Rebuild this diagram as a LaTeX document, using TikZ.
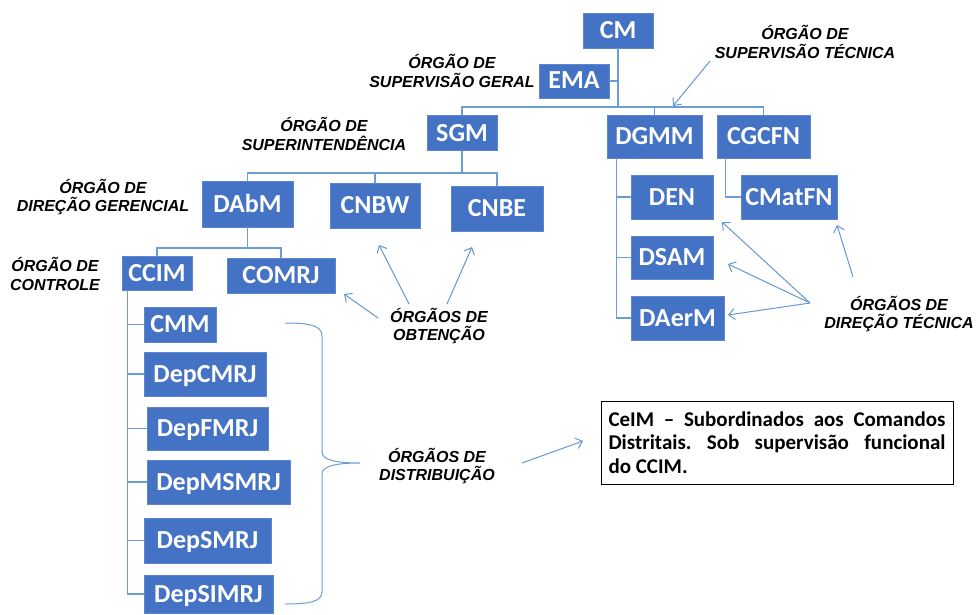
\documentclass[tikz,border=0pt]{standalone}
\usepackage{fontspec}
\setmainfont{Carlito}
\newfontfamily\labfont{Liberation Sans}
\usetikzlibrary{arrows.meta}
\definecolor{boxblue}{RGB}{68,114,196}
\definecolor{boxedge}{RGB}{92,135,208}
\definecolor{conncol}{RGB}{108,158,214}
\definecolor{arrcol}{RGB}{100,152,212}
\tikzset{
  box/.style={fill=boxblue, draw=boxedge, line width=0.8pt, text=white,
    font=\fontsize{26}{26}\selectfont\bfseries, inner sep=0pt,
    text height=17pt, text depth=1pt},
  lab/.style={font=\fontsize{16}{18.5}\labfont\bfseries\itshape, align=center,
    inner sep=0pt, text=black},
  conn/.style={draw=conncol, line width=1.2pt},
  arr/.style={draw=arrcol, line width=1pt, -{Straight Barb[length=6pt,width=11pt]}}
}
\begin{document}
\begin{tikzpicture}[x=1pt,y=-1pt]
\useasboundingbox (0,0) rectangle (976,615);
\fill[white] (0,0) rectangle (976,615);

% boxes
\node[box, minimum width=70pt, minimum height=35pt] (CM) at (618,30.5) {CM};
\node[box, minimum width=70pt, minimum height=34pt] (EMA) at (574,81) {EMA};
\node[box, minimum width=70pt, minimum height=35pt] (SGM) at (462,133) {SGM};
\node[box, minimum width=95pt, minimum height=43pt] (DGMM) at (654.5,136.5) {DGMM};
\node[box, minimum width=93pt, minimum height=43pt] (CGCFN) at (763.5,136.5) {CGCFN};
\node[box, minimum width=91pt, minimum height=46pt] (DAbM) at (247.5,204) {DAbM};
\node[box, minimum width=90pt, minimum height=45pt] (CNBW) at (375,205.5) {CNBW};
\node[box, minimum width=92pt, minimum height=45pt] (CNBE) at (497,208.5) {CNBE};
\node[box, minimum width=70pt, minimum height=34pt] (CCIM) at (157,273) {CCIM};
\node[box, minimum width=108pt, minimum height=35pt] (COMRJ) at (281,275.5) {COMRJ};
\node[box, minimum width=82pt, minimum height=44pt] (DEN) at (672,197) {DEN};
\node[box, minimum width=82pt, minimum height=43pt] (DSAM) at (672,257.5) {DSAM};
\node[box, minimum width=93pt, minimum height=44pt] (DAerM) at (677.5,318) {DAerM};
\node[box, minimum width=96pt, minimum height=44pt] (CMatFN) at (789,197) {CMatFN};
\node[box, minimum width=72pt, minimum height=35pt] (CMM) at (180,324.5) {CMM};
\node[box, minimum width=122pt, minimum height=44pt] (DepCMRJ) at (205,374) {DepCMRJ};
\node[box, minimum width=121pt, minimum height=43pt] (DepFMRJ) at (207.5,428.5) {DepFMRJ};
\node[box, minimum width=143pt, minimum height=44pt] (DepMSMRJ) at (218.5,482) {DepMSMRJ};
\node[box, minimum width=127pt, minimum height=45pt] (DepSMRJ) at (207.5,540.5) {DepSMRJ};
\node[box, minimum width=129pt, minimum height=38pt] (DepSIMRJ) at (208.5,594) {DepSIMRJ};

\node[draw=black, line width=1pt, fill=white, minimum width=352pt, minimum height=83pt,
  inner sep=7pt, text width=337pt, align=justify, text=black,
  font=\fontsize{21}{23.5}\selectfont\bfseries\frenchspacing] (CeIM) at (777,442.5)
  {CeIM -- Subordinados aos Comandos\linebreak Distritais. Sob supervisão funcional\linebreak do CCIM.};

% labels
\node[lab] (lGeral) at (452,71) {ÓRGÃO DE\\SUPERVISÃO GERAL};
\node[lab] (lTec) at (805,42) {ÓRGÃO DE\\SUPERVISÃO TÉCNICA};
\node[lab] (lSup) at (324,134) {ÓRGÃO DE\\SUPERINTENDÊNCIA};
\node[lab] (lGer) at (103,197) {ÓRGÃO DE\\DIREÇÃO GERENCIAL};
\node[lab] (lCon) at (55,274) {ÓRGÃO DE\\CONTROLE};
\node[lab] (lObt) at (439,326) {ÓRGÃOS DE\\OBTENÇÃO};
\node[lab] (lDis) at (437,466) {ÓRGÃOS DE\\DISTRIBUIÇÃO};
\node[lab] (lDT) at (899,314) {ÓRGÃOS DE\\DIREÇÃO TÉCNICA};

% tree connectors
\coordinate (b1) at (618,107);
\draw[conn] (CM.south) -- (b1);
\draw[conn] (EMA.east) -- (EMA.east -| b1);
\draw[conn] (SGM.north) |- (CGCFN.north |- b1) -- (CGCFN.north);
\draw[conn] (DGMM.north) -- (DGMM.north |- b1);

\coordinate (b2) at (462,173);
\draw[conn] (SGM.south) -- (b2);
\draw[conn] (DAbM.north) |- (CNBE.north |- b2) -- (CNBE.north);
\draw[conn] (CNBW.north) -- (CNBW.north |- b2);

\coordinate (b3) at (247.5,248);
\draw[conn] (DAbM.south) -- (b3);
\draw[conn] (CCIM.north) |- (COMRJ.north |- b3) -- (COMRJ.north);

\coordinate (s1) at ([xshift=6pt]CCIM.south west);
\draw[conn] (s1) |- (DepSIMRJ.west);
\draw[conn] (s1 |- CMM.west) -- (CMM.west);
\draw[conn] (s1 |- DepCMRJ.west) -- (DepCMRJ.west);
\draw[conn] (s1 |- DepFMRJ.west) -- (DepFMRJ.west);
\draw[conn] (s1 |- DepMSMRJ.west) -- (DepMSMRJ.west);
\draw[conn] (s1 |- DepSMRJ.west) -- (DepSMRJ.west);

\coordinate (s2) at ([xshift=10pt]DGMM.south west);
\draw[conn] (s2) |- (DAerM.west);
\draw[conn] (s2 |- DEN.west) -- (DEN.west);
\draw[conn] (s2 |- DSAM.west) -- (DSAM.west);

\coordinate (s3) at ([xshift=9pt]CGCFN.south west);
\draw[conn] (s3) |- (CMatFN.west);

% brace
\coordinate (brT) at (285,323);
\coordinate (brTip) at (360,463);
\coordinate (brB) at (285,604);
\draw[draw=conncol, line width=1pt] (brT) .. controls (308,323) and (322,325) .. (322,336)
  -- (322,452) .. controls (322,460) and (336,463) .. (brTip)
  .. controls (336,463) and (322,466) .. (322,474)
  -- (322,592) .. controls (322,602) and (308,604) .. (brB);

% arrows
\coordinate (tS) at (710,61); \coordinate (tE) at (673,106);
\draw[arr] (tS) -- (tE);
\coordinate (o1) at (409,304); \coordinate (o1e) at (379,245);
\coordinate (o2) at (447,304); \coordinate (o2e) at (472,247);
\coordinate (o3) at (378,318); \coordinate (o3e) at (344,294);
\draw[arr] (o1) -- (o1e);
\draw[arr] (o2) -- (o2e);
\draw[arr] (o3) -- (o3e);
\coordinate (d0) at (810,303);
\coordinate (dEN) at (722,222); \coordinate (dSA) at (728,264); \coordinate (dAe) at (728,315);
\draw[arr] (d0) -- (dEN);
\draw[arr] (d0) -- (dSA);
\draw[arr] (d0) -- (dAe);
\coordinate (d1) at (853,277); \coordinate (dCM) at (837,225);
\draw[arr] (d1) -- (dCM);
\coordinate (ds) at (522,463); \coordinate (dsE) at (583,441);
\draw[arr] (ds) -- (dsE);
\end{tikzpicture}
\end{document}
